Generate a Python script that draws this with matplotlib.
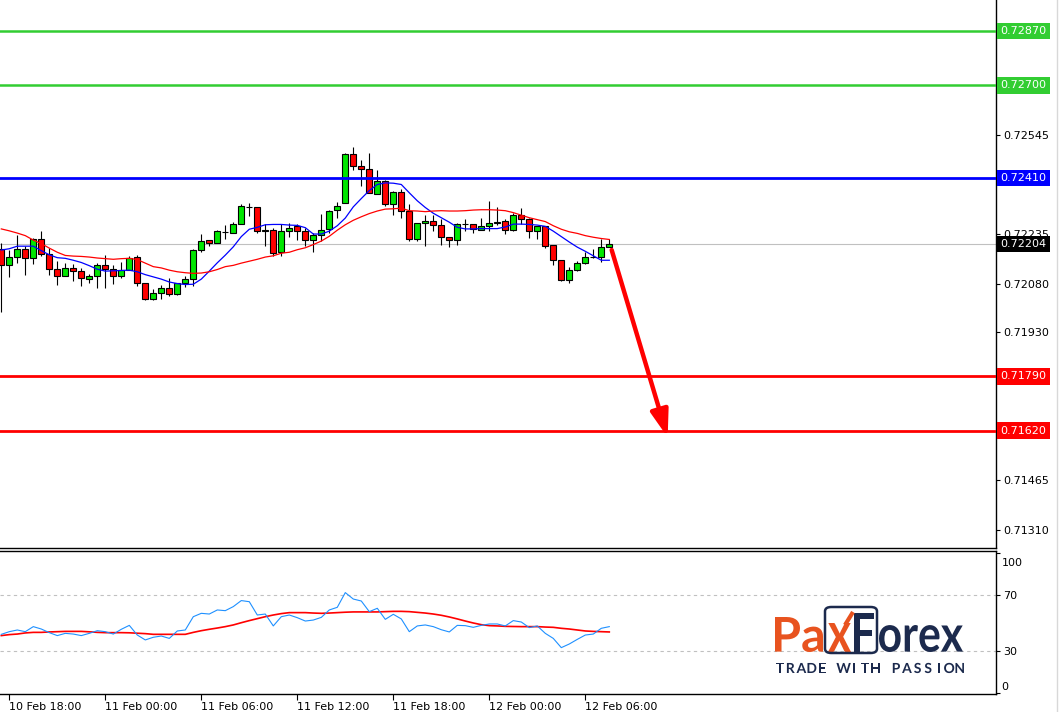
import matplotlib
matplotlib.use('Agg')
import matplotlib.pyplot as plt
import numpy as np
import pandas as pd
from matplotlib.textpath import TextPath
from matplotlib.patches import PathPatch, FancyBboxPatch
from matplotlib.font_manager import FontProperties
from matplotlib.transforms import Affine2D
from matplotlib.lines import Line2D

# ---------------- data ----------------
start_time = '2021-02-10 17:30'
opens = [0.72187, 0.72137, 0.72162, 0.72187, 0.72159, 0.72218, 0.72174, 0.72127, 0.72105, 0.72130,
         0.72118, 0.72093, 0.72105, 0.72137, 0.72126, 0.72105, 0.72121, 0.72162, 0.72083, 0.72033,
         0.72052, 0.72065, 0.72046, 0.72083, 0.72093, 0.72184, 0.72215, 0.72206, 0.72242, 0.72239,
         0.72265, 0.72318, 0.72318, 0.72243, 0.72249, 0.72180, 0.72246, 0.72259, 0.72243, 0.72215,
         0.72231, 0.72252, 0.72309, 0.72331, 0.72484, 0.72447, 0.72437, 0.72359, 0.72400, 0.72328,
         0.72368, 0.72306, 0.72218, 0.72271, 0.72277, 0.72262, 0.72227, 0.72215, 0.72265, 0.72265,
         0.72249, 0.72259, 0.72268, 0.72277, 0.72249, 0.72293, 0.72281, 0.72246, 0.72259, 0.72202,
         0.72155, 0.72090, 0.72121, 0.72143, 0.72164, 0.72162, 0.72193]
highs = [0.72207, 0.72184, 0.72231, 0.72197, 0.72223, 0.72244, 0.72190, 0.72150, 0.72143, 0.72140,
         0.72130, 0.72109, 0.72143, 0.72168, 0.72137, 0.72147, 0.72165, 0.72168, 0.72083, 0.72062,
         0.72077, 0.72096, 0.72083, 0.72105, 0.72187, 0.72235, 0.72215, 0.72249, 0.72262, 0.72274,
         0.72328, 0.72331, 0.72318, 0.72265, 0.72255, 0.72265, 0.72268, 0.72265, 0.72255, 0.72237,
         0.72299, 0.72309, 0.72334, 0.72487, 0.72506, 0.72468, 0.72490, 0.72434, 0.72403, 0.72371,
         0.72375, 0.72328, 0.72271, 0.72296, 0.72296, 0.72281, 0.72227, 0.72271, 0.72281, 0.72265,
         0.72284, 0.72337, 0.72318, 0.72281, 0.72302, 0.72315, 0.72284, 0.72259, 0.72259, 0.72202,
         0.72155, 0.72133, 0.72152, 0.72180, 0.72187, 0.72218, 0.72218]
lows = [0.71991, 0.72101, 0.72143, 0.72108, 0.72140, 0.72167, 0.72108, 0.72077, 0.72103, 0.72088,
        0.72073, 0.72082, 0.72067, 0.72067, 0.72079, 0.72096, 0.72121, 0.72073, 0.72030, 0.72030,
        0.72033, 0.72040, 0.72043, 0.72070, 0.72074, 0.72180, 0.72199, 0.72206, 0.72221, 0.72239,
        0.72265, 0.72290, 0.72237, 0.72199, 0.72165, 0.72165, 0.72227, 0.72215, 0.72199, 0.72180,
        0.72212, 0.72239, 0.72284, 0.72331, 0.72434, 0.72384, 0.72362, 0.72359, 0.72324, 0.72293,
        0.72284, 0.72214, 0.72214, 0.72199, 0.72243, 0.72202, 0.72196, 0.72202, 0.72246, 0.72239,
        0.72249, 0.72246, 0.72262, 0.72234, 0.72246, 0.72265, 0.72224, 0.72218, 0.72190, 0.72137,
        0.72087, 0.72083, 0.72118, 0.72140, 0.72159, 0.72149, 0.72193]
closes = [0.72137, 0.72162, 0.72187, 0.72159, 0.72218, 0.72174, 0.72127, 0.72105, 0.72129, 0.72118,
          0.72096, 0.72105, 0.72137, 0.72126, 0.72105, 0.72124, 0.72160, 0.72083, 0.72033, 0.72052,
          0.72065, 0.72046, 0.72082, 0.72093, 0.72184, 0.72212, 0.72206, 0.72243, 0.72242, 0.72265,
          0.72324, 0.72318, 0.72246, 0.72249, 0.72177, 0.72246, 0.72255, 0.72243, 0.72215, 0.72231,
          0.72249, 0.72306, 0.72324, 0.72484, 0.72447, 0.72437, 0.72362, 0.72400, 0.72328, 0.72368,
          0.72306, 0.72218, 0.72271, 0.72277, 0.72262, 0.72227, 0.72215, 0.72265, 0.72265, 0.72252,
          0.72259, 0.72268, 0.72274, 0.72249, 0.72293, 0.72281, 0.72246, 0.72259, 0.72199, 0.72155,
          0.72090, 0.72121, 0.72143, 0.72162, 0.72164, 0.72193, 0.72204]
ma_fast = [0.72185, 0.72189, 0.72197, 0.72197, 0.72197, 0.72183, 0.72170, 0.72161, 0.72159, 0.72153,
           0.72146, 0.72136, 0.72125, 0.72119, 0.72120, 0.72121, 0.72122, 0.72117, 0.72108, 0.72101,
           0.72094, 0.72085, 0.72080, 0.72077, 0.72078, 0.72094, 0.72119, 0.72145, 0.72169, 0.72195,
           0.72227, 0.72250, 0.72256, 0.72264, 0.72265, 0.72265, 0.72263, 0.72262, 0.72255, 0.72235,
           0.72235, 0.72244, 0.72261, 0.72285, 0.72320, 0.72346, 0.72371, 0.72390, 0.72395, 0.72394,
           0.72390, 0.72364, 0.72339, 0.72318, 0.72300, 0.72286, 0.72272, 0.72256, 0.72251, 0.72251,
           0.72252, 0.72252, 0.72252, 0.72257, 0.72266, 0.72266, 0.72265, 0.72263, 0.72259, 0.72244,
           0.72227, 0.72210, 0.72194, 0.72181, 0.72167, 0.72153, 0.72153]
ma_slow = [0.72251, 0.72245, 0.72238, 0.72230, 0.72216, 0.72205, 0.72191, 0.72178, 0.72168, 0.72166,
           0.72165, 0.72163, 0.72160, 0.72158, 0.72156, 0.72158, 0.72159, 0.72155, 0.72144, 0.72133,
           0.72129, 0.72122, 0.72117, 0.72114, 0.72112, 0.72113, 0.72117, 0.72124, 0.72133, 0.72137,
           0.72144, 0.72150, 0.72156, 0.72163, 0.72167, 0.72175, 0.72178, 0.72186, 0.72192, 0.72202,
           0.72213, 0.72228, 0.72247, 0.72264, 0.72278, 0.72289, 0.72299, 0.72307, 0.72313, 0.72314,
           0.72316, 0.72308, 0.72307, 0.72305, 0.72307, 0.72308, 0.72307, 0.72307, 0.72308, 0.72310,
           0.72311, 0.72311, 0.72310, 0.72308, 0.72302, 0.72294, 0.72286, 0.72280, 0.72274, 0.72261,
           0.72250, 0.72242, 0.72237, 0.72230, 0.72225, 0.72221, 0.72218]
rsi = [41.9, 43.8, 45.0, 43.8, 47.4, 45.7, 43.1, 41.0, 42.6, 42.1,
       41.0, 42.6, 44.5, 43.8, 42.1, 45.5, 48.3, 41.4, 37.9, 39.8,
       40.7, 39.0, 44.3, 45.0, 54.5, 56.9, 56.4, 59.3, 58.8, 61.7,
       66.0, 65.2, 55.7, 56.4, 47.9, 54.5, 55.7, 53.8, 51.4, 52.1,
       54.0, 59.3, 61.2, 71.7, 67.1, 65.7, 58.1, 60.5, 52.6, 56.2,
       52.9, 43.8, 47.9, 48.6, 47.4, 45.2, 43.6, 48.3, 48.1, 46.9,
       48.3, 49.3, 49.3, 47.9, 51.7, 50.7, 46.7, 47.9, 42.6, 39.0,
       32.4, 35.0, 38.3, 41.4, 42.1, 46.2, 47.4]
rsi_signal = [41.0, 41.7, 42.1, 42.9, 43.3, 43.3, 43.6, 43.8, 44.0, 44.0,
              44.0, 43.7, 43.3, 43.1, 43.1, 43.1, 43.0, 42.7, 42.4, 41.9,
              41.9, 41.9, 41.9, 41.9, 43.3, 44.5, 45.5, 46.4, 47.4, 48.6,
              50.2, 51.7, 53.1, 54.5, 55.7, 56.7, 57.4, 57.4, 57.4, 57.1,
              56.9, 57.1, 57.4, 57.7, 57.9, 57.9, 57.9, 57.9, 58.1, 58.3,
              58.3, 58.1, 57.6, 57.1, 56.4, 55.5, 54.3, 52.9, 51.4, 50.0,
              48.8, 48.1, 47.9, 47.6, 47.5, 47.4, 47.4, 47.4, 47.1, 46.9,
              46.2, 45.7, 45.0, 44.3, 44.0, 43.8, 43.6]
level_values = [0.72870, 0.72700, 0.72410, 0.71790, 0.71620]
level_colors = ['#32cd32', '#32cd32', '#0000ff', '#ff0000', '#ff0000']
price_ticks = [0.72545, 0.72235, 0.72080, 0.71930, 0.71465, 0.71310]
rsi_ticks = [0, 30, 70, 100]
arrow_start = (76.3, 0.72185)
arrow_end = (83.3, 0.71599)

# ---------------- figure ----------------
W, H = 1059, 712
fig = plt.figure(figsize=(W / 100, H / 100), dpi=100)
fig.patch.set_facecolor('white')
plt.rcParams['font.family'] = ['DejaVu Sans']


def fx(px):
    return px / W


def fy(py):
    return 1 - py / H


ax = fig.add_axes([0, fy(548), fx(996), fy(0) - fy(548)])
rx = fig.add_axes([0, fy(694), fx(996), fy(551) - fy(694)])

o = np.array(opens); h = np.array(highs); l = np.array(lows); c = np.array(closes)
n = len(o)
x = np.arange(n)
times = pd.date_range(start_time, periods=n, freq='30min')

xlim = (-0.1625, 124.34)
for a in (ax, rx):
    a.set_xlim(*xlim)
    a.set_facecolor('white')

ax.set_ylim(0.71253, 0.72967)

# current price line
ax.axhline(c[-1], color='#c0c0c0', lw=0.8, zorder=1)

# candles
ax.vlines(x, l, h, color='black', lw=0.8, zorder=2)
cols = np.where(c > o, '#00e600', np.where(c < o, '#ff0000', 'black'))
ax.bar(x, np.abs(c - o), bottom=np.minimum(o, c), width=0.7, color=cols,
       edgecolor='black', linewidth=0.8, zorder=3)

# moving averages
ax.plot(x, ma_fast, color='#0000ff', lw=0.9, zorder=4)
ax.plot(x, ma_slow, color='#ff0000', lw=0.9, zorder=4)

# levels
for val, col in zip(level_values, level_colors):
    lw = 1.8 if col == '#32cd32' else 2.0
    ax.axhline(val, color=col, lw=lw, zorder=5)

# arrow
ax.annotate('', xy=arrow_end, xytext=arrow_start,
            arrowprops=dict(arrowstyle='-|>,head_length=0.9,head_width=0.3', color='#ff0000',
                            lw=3.2, mutation_scale=18, shrinkA=0, shrinkB=0), zorder=8)

# main axis styling
for s in ('top', 'left'):
    ax.spines[s].set_visible(False)
ax.spines['right'].set_color('black'); ax.spines['right'].set_linewidth(1)
ax.spines['bottom'].set_color('black'); ax.spines['bottom'].set_linewidth(1)
ax.tick_params(axis='x', bottom=False, labelbottom=False)
ax.yaxis.tick_right()
ax.set_yticks(price_ticks)
ax.set_yticklabels(['%.5f' % t for t in price_ticks])
ax.tick_params(axis='y', direction='out', length=3, width=0.8, labelsize=8, pad=2, colors='black')

# level labels
ytr = ax.get_yaxis_transform()
for val, col in zip(level_values, level_colors):
    ax.text(1.0045, val, '%.5f' % val, transform=ytr, ha='left', va='center', fontsize=8,
            color='white', bbox=dict(boxstyle='square,pad=0.3', fc=col, ec='none'),
            clip_on=False, zorder=10)
ax.text(1.0045, c[-1], '%.5f' % c[-1], transform=ytr, ha='left', va='center', fontsize=8,
        color='white', bbox=dict(boxstyle='square,pad=0.3', fc='black', ec='none'),
        clip_on=False, zorder=10)

# RSI panel
rx.set_ylim(-0.7, 101.4)
rx.axhline(70, color='#c0c0c0', lw=0.8, ls=(0, (3, 3)), zorder=1)
rx.axhline(30, color='#c0c0c0', lw=0.8, ls=(0, (3, 3)), zorder=1)
rx.plot(x, rsi, color='#1e90ff', lw=0.8, zorder=3)
rx.plot(x, rsi_signal, color='#ff0000', lw=1.2, zorder=2)
rx.spines['left'].set_visible(False)
for s in ('top', 'right', 'bottom'):
    rx.spines[s].set_color('black'); rx.spines[s].set_linewidth(1)
rx.yaxis.tick_right()
rx.set_yticks(rsi_ticks)
rx.set_yticklabels(['' if t in (0, 100) else str(t) for t in rsi_ticks])
rx.tick_params(axis='y', direction='out', length=3, width=0.8, labelsize=8, pad=2, colors='black')
rtr = rx.get_yaxis_transform()
rx.text(1.0055, 96.5, '100', transform=rtr, ha='left', va='top', fontsize=8, clip_on=False,
        color='black')
rx.text(1.0055, 0.5, '0', transform=rtr, ha='left', va='bottom', fontsize=8, clip_on=False,
        color='black')

tick_idx = [i for i, t in enumerate(times) if t.minute == 0 and t.hour % 6 == 0]
rx.set_xticks(tick_idx)
rx.set_xticklabels([times[i].strftime('%d %b %H:%M') for i in tick_idx])
rx.tick_params(axis='x', direction='out', length=4, width=0.8, labelsize=8, pad=2, colors='black')
for lbl in rx.get_xticklabels():
    lbl.set_ha('left')

# right edge border
fig.add_artist(Line2D([fx(1057), fx(1057)], [0, 1], color='#d8d8d8', lw=1, transform=fig.transFigure))

# ---------------- logo ----------------
ORANGE = '#e8531f'
NAVY = '#1c2a4d'


def fit_text(s, x0, x1, ytop, ybot, color, family='Lato'):
    fp = FontProperties(family=family, weight='bold')
    tp = TextPath((0, 0), s, size=100, prop=fp)
    bb = tp.get_extents()
    sx = (fx(x1) - fx(x0)) / bb.width
    sy = (fy(ytop) - fy(ybot)) / bb.height
    tr = Affine2D().translate(-bb.x0, -bb.y0).scale(sx, sy).translate(fx(x0), fy(ybot))
    fig.add_artist(PathPatch(tr.transform_path(tp), transform=fig.transFigure, fc=color, ec='none'))


fit_text('Pa', 775, 823, 617, 652, ORANGE)
fit_text('x', 828, 851, 623, 652, ORANGE)
fit_text('F', 854, 874, 613, 652, NAVY)
fit_text('orex', 879, 963, 625, 652, NAVY)
fig.add_artist(Line2D([fx(845), fx(853)], [fy(625), fy(612)], color=ORANGE, lw=3,
                      solid_capstyle='butt', transform=fig.transFigure))
fig.add_artist(FancyBboxPatch((fx(825), fy(653)), fx(877) - fx(825), fy(607) - fy(653),
                              boxstyle='round,pad=0,rounding_size=0.006', fc='none', ec=NAVY,
                              lw=1.8, transform=fig.transFigure))

tag = 'TRADE WITH PASSION'
fp_tag = FontProperties(family='Lato', weight='bold')
slot = (965 - 775) / len(tag)
cap_px = 10.0
for i, ch in enumerate(tag):
    if ch == ' ':
        continue
    tp = TextPath((0, 0), ch, size=cap_px / 0.72, prop=fp_tag)
    bb = tp.get_extents()
    left = 775 + i * slot + (slot - bb.width) / 2
    tr = Affine2D().translate(-bb.x0, 0).translate(left, 0).scale(1 / W, 1 / H).translate(0, fy(673))
    fig.add_artist(PathPatch(tr.transform_path(tp), transform=fig.transFigure, fc=NAVY, ec='none'))

fig.savefig('out.png', dpi=100, facecolor='white')
